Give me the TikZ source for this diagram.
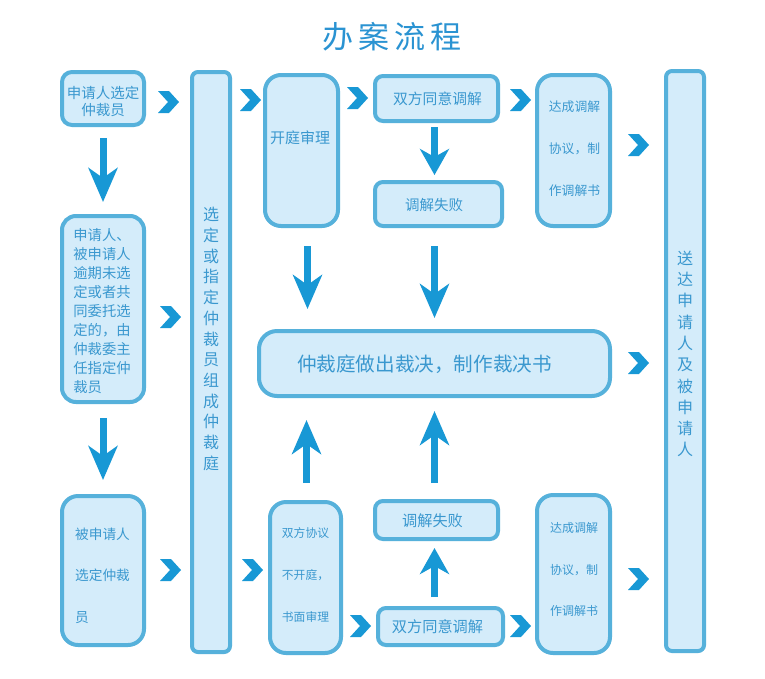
\documentclass[tikz,border=0pt]{standalone}
\usepackage{fontspec}
\setmainfont{Noto Sans CJK SC}
\usetikzlibrary{arrows.meta}
\definecolor{bd}{HTML}{56B1DB}
\definecolor{bf}{HTML}{D4ECFA}
\definecolor{tx}{HTML}{3A98CF}
\definecolor{ac}{HTML}{1898D5}
\definecolor{tt}{HTML}{2A93D2}
\tikzset{
  box/.style={draw=bd, fill=bf, line width=4pt, inner sep=0pt},
  txt/.style={text=tx, inner sep=0pt, align=center},
  arr/.style={draw=ac, line width=7pt, -{Stealth[length=34pt,width=29pt,inset=10pt]}},
  arrs/.style={draw=ac, line width=7pt, -{Stealth[length=26pt,width=29pt,inset=8pt]}},
}
\newcommand\mybx[6]{%
  \node[box, rounded corners=#6pt, minimum width={(#4-#2-4)*1pt}, minimum height={(#5-#3-4)*1pt}] (#1) at ({(#2+#4)/2},{(#3+#5)/2}) {};}
\newcommand\mychev[3]{%
  \fill[ac] ({#2-10},{#3-11}) -- ({#2+1},{#3-11}) -- ({#2+11},{#3}) -- ({#2+1},{#3+11}) -- ({#2-10},{#3+11}) -- ({#2},{#3}) -- cycle
  coordinate (#1) at (#2,#3);}
\begin{document}
\begin{tikzpicture}[x=1pt,y=-1pt]
\useasboundingbox (0,0) rectangle (765,678);
\fill[white] (0,0) rectangle (765,678);

% title
\node[text=tt, font=\fontsize{31}{31}\selectfont, inner sep=0pt] (title) at (392,37) {办\hspace{5pt}案\hspace{5pt}流\hspace{5pt}程};

% boxes
\mybx{b1}{60}{70}{146}{127}{10}
\mybx{b2}{60}{214}{146}{404}{14}
\mybx{b3}{60}{494}{146}{647}{16}
\mybx{lc}{190}{70}{232}{654}{6}
\mybx{kt}{263}{73}{340}{228}{16}
\mybx{m1}{373}{74}{500}{123}{8}
\mybx{f1}{373}{180}{504}{228}{8}
\mybx{d1}{535}{73}{612}{228}{16}
\mybx{rc}{664}{69}{706}{653}{6}
\mybx{cj}{257}{329}{612}{398}{18}
\mybx{sm}{268}{500}{343}{655}{16}
\mybx{f2}{373}{499}{500}{541}{8}
\mybx{m2}{376}{606}{505}{647}{8}
\mybx{d2}{535}{493}{612}{655}{16}

% texts
\node[txt, font=\fontsize{14.5}{17}\selectfont] (tb1) at (103,101.5) {申请人选定\\仲裁员};
\node[txt, align=left, font=\fontsize{14.3}{19}\selectfont] (tb2) at (102,311) {申请人、\\被申请人\\逾期未选\\定或者共\\同委托选\\定的，由\\仲裁委主\\任指定仲\\裁员};
\node[txt, align=left, font=\fontsize{13.7}{41.5}\selectfont] (tb3) at (102.5,575.5) {被申请人\\选定仲裁\\员};
\node[txt, font=\fontsize{16}{20.7}\selectfont] (tlc) at (211,339) {选\\定\\或\\指\\定\\仲\\裁\\员\\组\\成\\仲\\裁\\庭};
\node[txt, font=\fontsize{15}{15}\selectfont] (tkt) at (300,138) {开庭审理};
\node[txt, font=\fontsize{14.8}{15}\selectfont] (tm1) at (437.5,99) {双方同意调解};
\node[txt, font=\fontsize{14.5}{15}\selectfont] (tf1) at (434,205) {调解失败};
\node[txt, font=\fontsize{12.8}{42}\selectfont] (td1) at (574.5,149) {达成调解\\协议，制\\作调解书};
\node[txt, font=\fontsize{16}{21.3}\selectfont] (trc) at (685,354) {送\\达\\申\\请\\人\\及\\被\\申\\请\\人};
\node[txt, font=\fontsize{19.6}{20}\selectfont] (tcj) at (424.5,364) {仲裁庭做出裁决，制作裁决书};
\node[txt, font=\fontsize{11.8}{42}\selectfont] (tsm) at (305.5,575) {双方协议\\不开庭，\\书面审理};
\node[txt, font=\fontsize{15.2}{15}\selectfont] (tf2) at (432.5,521) {调解失败};
\node[txt, font=\fontsize{15.2}{15}\selectfont] (tm2) at (437.5,627) {双方同意调解};
\node[txt, font=\fontsize{12}{41.5}\selectfont] (td2) at (574,569.5) {达成调解\\协议，制\\作调解书};

% chevrons
\mychev{c1}{168}{102}
\mychev{c2}{250}{100}
\mychev{c3}{170}{317}
\mychev{c4}{170}{570}
\mychev{c5}{252}{570}
\mychev{c6}{357}{98}
\mychev{c7}{520}{100}
\mychev{c8}{638}{145}
\mychev{c9}{638}{363}
\mychev{c10}{360}{626}
\mychev{c11}{520}{626}
\mychev{c12}{638}{579}

% vertical arrows
\draw[arr, shorten <=11pt, shorten >=12pt] (b1) -- (b2);
\draw[arr, shorten <=14pt, shorten >=14pt] (b2) -- (b3);
\draw[arr, shorten <=18pt, shorten >=20pt] ([xshift=6pt]kt.south) -- ([xshift=6pt]kt.south |- cj.north);
\draw[arrs, shorten <=4pt, shorten >=5pt] ([xshift=-2pt]m1.south) -- ([xshift=-2pt]m1.south |- f1.north);
\draw[arr, shorten <=18pt, shorten >=11pt] ([xshift=-4pt]f1.south) -- ([xshift=-4pt]f1.south |- cj.north);
\draw[arr, shorten <=17pt, shorten >=22pt] ([xshift=1pt]sm.north) -- ([xshift=1pt]sm.north |- cj.south);
\draw[arr, shorten <=16pt, shorten >=13pt] ([xshift=-2pt]f2.north) -- ([xshift=-2pt]f2.north |- cj.south);
\draw[arrs, shorten <=9pt, shorten >=7pt] ([xshift=-6pt]m2.north) -- ([xshift=-6pt]m2.north |- f2.south);
\end{tikzpicture}
\end{document}
